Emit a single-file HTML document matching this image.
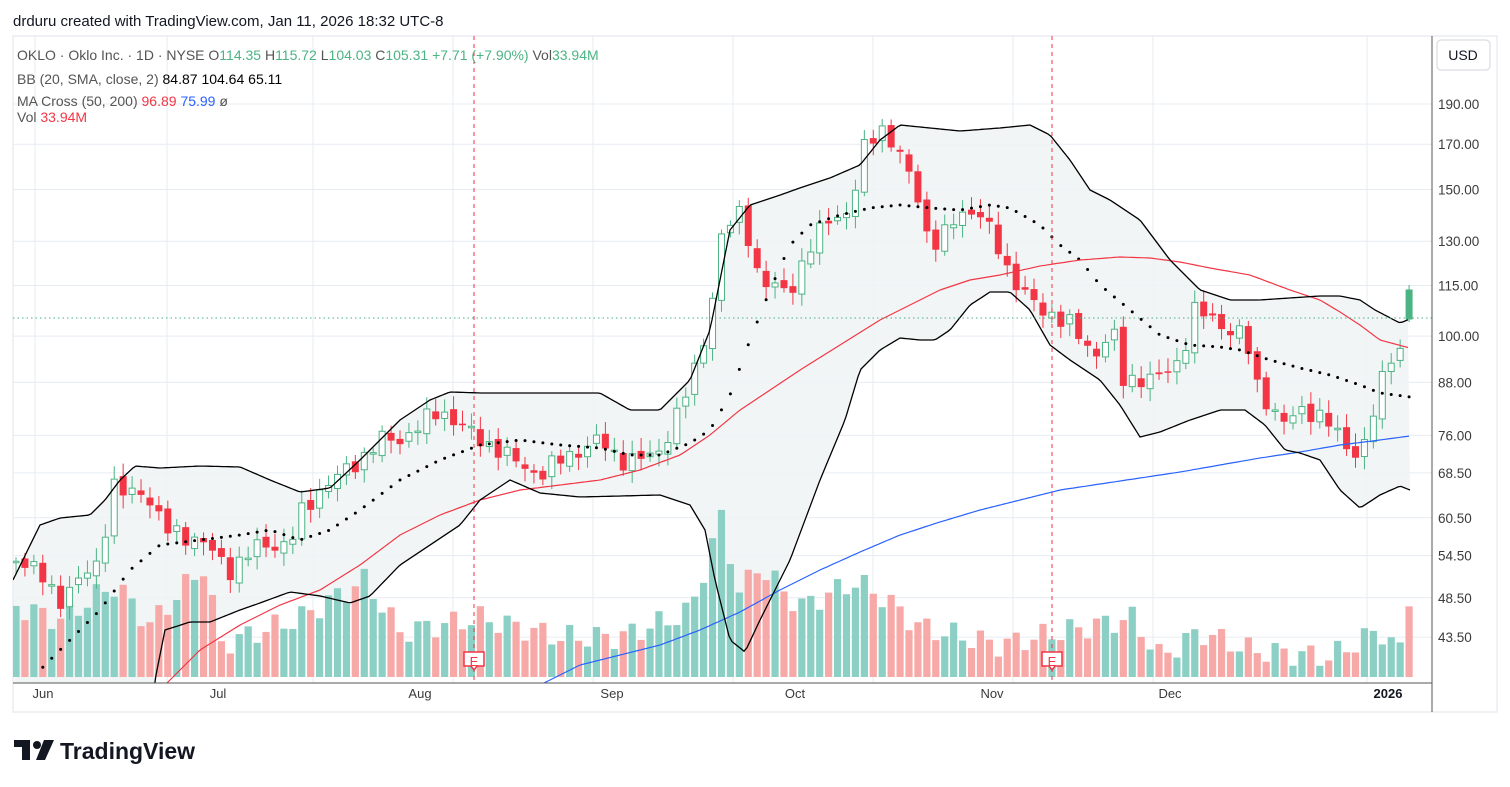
<!DOCTYPE html><html><head><meta charset="utf-8"><style>
body{margin:0;background:#fff;width:1510px;height:787px;overflow:hidden;font-family:"Liberation Sans",sans-serif}
svg{position:absolute;left:0;top:0}
</style></head><body>
<svg id="s" width="1510" height="787" xmlns="http://www.w3.org/2000/svg" font-family="Liberation Sans, sans-serif"></svg>
<script>
const S=document.getElementById('s');let h='';
const L=1432,T=36,B=683,X0=13,R=1497;
function py(p){return 104+(Math.log(190)-Math.log(p))*361.6}
function interp(w,x){if(x<=w[0][0])return w[0][1];for(let i=1;i<w.length;i++){if(x<=w[i][0]){const a=w[i-1],b=w[i];return a[1]+(b[1]-a[1])*(x-a[0])/(b[0]-a[0]);}}return w[w.length-1][1];}
function path(w,x0,x1){let d='';for(let x=x0;x<=x1;x+=3){d+=(d?'L':'M')+x+','+interp(w,x).toFixed(1);}return d;}
h+=`<rect x="${X0}" y="${T}" width="${R-X0}" height="${712-T}" fill="#fff" stroke="#e0e3eb"/>`;
[190,170,150,130,115,100,88,76,68.5,60.5,54.5,48.5,43.5].forEach(p=>{const y=py(p);h+=`<line x1="${X0}" x2="${L}" y1="${y}" y2="${y}" stroke="#e6ecf3"/>`;h+=`<text x="1438" y="${y+5}" font-size="13.5" fill="#3b3b3b">${p.toFixed(2)}</text>`;});
[35,167,313,453,593,733,873,1013,1153,1367].forEach(x=>h+=`<line x1="${x}" x2="${x}" y1="${T}" y2="${B}" stroke="#e6ecf3"/>`);
const up=[[13,580],[40,525],[60,518],[90,515],[105,500],[120,480],[135,466],[160,468],[200,466],[240,467],[270,480],[300,492],[330,488],[360,460],[400,420],[430,400],[450,392],[480,393],[600,393],[630,410],[660,410],[690,380],[710,330],[730,230],[750,205],[780,195],[800,188],[830,178],[860,165],[880,140],[900,125],[930,128],[960,131],[1000,128],[1030,125],[1050,135],[1070,160],[1090,190],[1110,200],[1140,220],[1170,260],[1200,290],[1230,300],[1260,300],[1290,298],[1320,296],[1340,296],[1360,300],[1375,310],[1400,323],[1410,319]];
const lo=[[13,720],[150,720],[155,680],[165,630],[190,622],[210,622],[240,610],[260,603],[290,592],[320,596],[350,603],[370,596],[400,565],[430,545],[460,525],[480,500],[510,480],[540,493],[580,497],[620,496],[660,495],[690,505],[705,530],[715,580],[730,640],[745,652],[760,620],[790,560],[820,480],[845,420],[860,370],[880,350],[900,338],[920,340],[935,340],[950,330],[970,305],[990,292],[1010,292],[1030,310],[1050,345],[1070,360],[1100,380],[1120,405],[1140,437],[1160,432],[1190,420],[1220,410],[1245,410],[1265,425],[1285,450],[1300,453],[1320,460],[1340,490],[1360,508],[1380,495],[1400,486],[1410,490]];
h+=`<clipPath id="c"><rect x="${X0}" y="${T}" width="${L-X0}" height="${B-T}"/></clipPath><g clip-path="url(#c)">`;
let poly=path(up,13,1410);let rev='';for(let x=1410;x>=13;x-=3)rev+='L'+x+','+interp(lo,x).toFixed(1);
h+=`<path d="${poly}${rev}Z" fill="#f0f3f3" opacity=".85"/>`;
const vw=[[13,605],[60,620],[113,585],[125,595],[150,625],[205,565],[220,645],[300,618],[365,580],[400,632],[480,618],[560,637],[620,637],[690,612],[722,516],[740,595],[758,565],[800,607],[855,582],[880,595],[920,627],[1000,645],[1060,632],[1133,618],[1160,657],[1200,632],[1250,650],[1330,657],[1380,630],[1400,652],[1410,590]];
const N=157;const xs=i=>16+i*8.93;
const cw=[[13,555],[40,575],[60,600],[80,580],[100,560],[112,485],[125,495],[145,490],[165,530],[200,540],[230,570],[260,545],[290,545],[300,515],[320,490],[340,475],[360,460],[380,440],[400,440],[440,410],[460,425],[480,440],[500,450],[520,465],[540,475],[560,460],[600,440],[620,460],[640,460],[660,450],[680,410],[700,355],[712,300],[722,235],[740,212],[750,240],[760,285],[790,290],[800,270],[815,240],[830,215],[850,215],[865,145],[880,125],[895,150],[905,165],[920,200],[930,250],[945,235],[960,210],[980,215],[1000,250],[1010,275],[1025,295],[1040,310],[1055,315],[1070,325],[1085,345],[1100,355],[1112,320],[1120,382],[1140,378],[1160,378],[1180,360],[1195,310],[1210,318],[1230,330],[1245,335],[1255,383],[1270,405],[1285,425],[1300,410],[1315,412],[1330,425],[1345,445],[1360,455],[1368,435],[1378,395],[1390,355],[1402,348],[1410,319]];
let prev=interp(cw,xs(0))+5;
for(let i=0;i<N;i++){const x=xs(i);let c=interp(cw,x)+Math.sin(i*2.7)*7+Math.cos(i*1.3)*4;let o=prev+Math.sin(i*5.1)*3;
if(i==N-1){o=319;c=290;}
const upc=c<o;const hi=i==N-1?285:Math.min(o,c)-4-Math.abs(Math.sin(i*3.3))*9;const lw=i==N-1?322:Math.max(o,c)+4+Math.abs(Math.cos(i*2.1))*9;
const col=upc?'#4cb383':'#f23645';
const vt=interp(vw,x)+Math.sin(i*1.9)*12;h+=`<rect x="${x-3.6}" y="${vt}" width="7.2" height="${677-vt}" fill="${(upc&&i!=N-1)?'#8ccfc4':'#f7a9a7'}"/>`;
h+=`<line x1="${x}" x2="${x}" y1="${hi}" y2="${lw}" stroke="${col}"/>`;
const by=Math.min(o,c),bh=Math.max(Math.abs(o-c),1.5);
h+= upc?`<rect x="${x-3}" y="${by}" width="6" height="${bh}" fill="${i==N-1?col:'#fff'}" stroke="${col}"/>`:`<rect x="${x-3.5}" y="${by}" width="7" height="${bh}" fill="${col}"/>`;
prev=c;}
const mid=[[35,685],[40,670],[70,640],[100,610],[130,570],[160,545],[200,540],[240,535],[270,530],[300,540],[330,530],[360,510],[400,480],[440,460],[480,445],[520,440],[560,445],[600,448],[630,455],[660,455],[690,443],[710,430],[730,395],[750,340],[770,290],[790,245],[810,225],[840,215],[870,208],[900,205],[930,208],[960,210],[990,205],[1010,208],[1040,225],[1060,245],[1080,260],[1100,285],[1130,310],[1160,335],[1190,345],[1220,347],[1240,350],[1270,360],[1300,368],[1330,375],[1360,385],[1380,393],[1410,397]];
for(let i=3;i<N;i++){const x=xs(i);h+=`<circle cx="${x}" cy="${interp(mid,x)}" r="1.5" fill="#000"/>`;}
const ma50=[[160,690],[200,650],[240,625],[280,605],[320,590],[360,565],[400,535],[440,515],[480,500],[520,490],[560,485],[600,480],[640,470],[680,455],[710,435],[740,410],[770,390],[800,370],[840,345],[880,320],[910,305],[940,290],[970,280],[1000,275],[1040,266],[1080,260],[1120,257],[1150,258],[1180,262],[1210,268],[1250,275],[1290,290],[1320,300],[1340,312],[1360,325],[1380,340],[1410,348]];
const ma200=[[530,690],[580,665],[620,655],[660,645],[700,630],[740,612],[780,590],[820,570],[860,552],[900,535],[940,522],[980,510],[1020,500],[1060,490],[1100,484],[1140,478],[1180,472],[1220,465],[1260,458],[1300,452],[1340,445],[1380,440],[1410,436]];
h+=`<path d="${path(ma50,160,1410)}" fill="none" stroke="#f23645" stroke-width="1.2"/>`;
h+=`<path d="${path(ma200,530,1410)}" fill="none" stroke="#2962ff" stroke-width="1.2"/>`;
h+=`<path d="${path(up,13,1410)}" fill="none" stroke="#000" stroke-width="1.3"/>`;
h+=`<path d="${path(lo,150,1410)}" fill="none" stroke="#000" stroke-width="1.3"/>`;
h+=`<line x1="${X0}" x2="${L}" y1="318" y2="318" stroke="#4cb383" stroke-dasharray="1.5,3"/>`;
[474,1052].forEach(x=>{h+=`<line x1="${x}" x2="${x}" y1="${T}" y2="${B}" stroke="#f23645" stroke-dasharray="4,4"/>`;h+=`<path d="M${x-10},652h20v14h-7l-3,4l-3,-4h-7z" fill="#fff" stroke="#f23645" stroke-width="1.5"/><text x="${x}" y="666" font-size="13" text-anchor="middle" fill="#f23645">E</text>`;});
h+='</g>';
h+=`<line x1="${L}" x2="${L}" y1="${T}" y2="712" stroke="#555"/><line x1="${X0}" x2="${L}" y1="${B}" y2="${B}" stroke="#555"/>`;
h+=`<rect x="1437" y="40" width="53" height="30" rx="4" fill="#fff" stroke="#d1d4dc"/><text x="1463" y="60" font-size="14" text-anchor="middle" fill="#131722">USD</text>`;
[["Jun",43],["Jul",218],["Aug",420],["Sep",612],["Oct",795],["Nov",992],["Dec",1170]].forEach(([t,x])=>h+=`<text x="${x}" y="698" font-size="13" text-anchor="middle" fill="#3b3b3b">${t}</text>`);
h+=`<text x="1388" y="698" font-size="13" font-weight="bold" text-anchor="middle" fill="#131722">2026</text>`;
h+=`<text x="13" y="26" font-size="15" fill="#131722">drduru created with TradingView.com, Jan 11, 2026 18:32 UTC-8</text>`;
const g='#4cb383';
h+=`<text x="17" y="60" font-size="14" fill="#555">OKLO · Oklo Inc. · 1D · NYSE <tspan>O</tspan><tspan fill="${g}">114.35</tspan> H<tspan fill="${g}">115.72</tspan> L<tspan fill="${g}">104.03</tspan> C<tspan fill="${g}">105.31</tspan> <tspan fill="${g}">+7.71 (+7.90%)</tspan> Vol<tspan fill="${g}">33.94M</tspan></text>`;
h+=`<text x="17" y="84" font-size="14" fill="#555">BB (20, SMA, close, 2) <tspan fill="#000">84.87</tspan> <tspan fill="#000">104.64</tspan> <tspan fill="#000">65.11</tspan></text>`;
h+=`<text x="17" y="106" font-size="14" fill="#555">MA Cross (50, 200) <tspan fill="#f23645">96.89</tspan> <tspan fill="#2962ff">75.99</tspan> ø</text>`;
h+=`<text x="17" y="122" font-size="14" fill="#555">Vol <tspan fill="#f23645">33.94M</tspan></text>`;
h+=`<path d="M14,740h16v20h-8v-13h-8z" fill="#131722"/><circle cx="37" cy="745" r="4" fill="#131722"/><path d="M44,740h10l-9,20h-9z" fill="#131722"/><text x="60" y="759" font-size="23" font-weight="bold" fill="#131722">TradingView</text>`;
S.innerHTML=h;
</script></body></html>
